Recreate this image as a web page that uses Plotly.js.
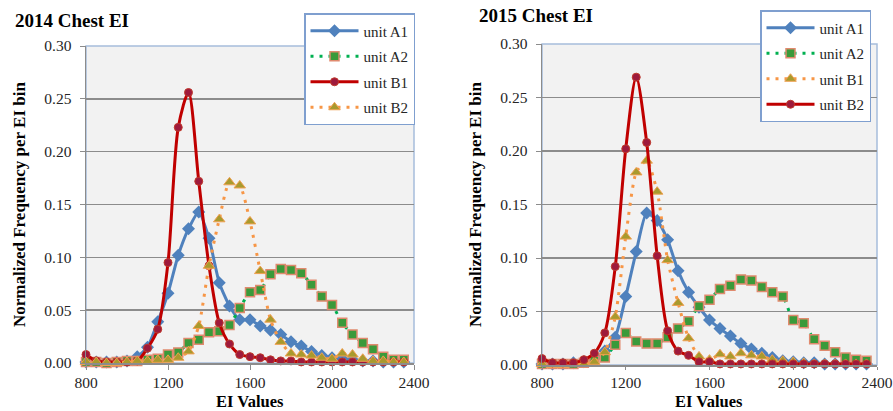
<!DOCTYPE html>
<html>
<head>
<meta charset="utf-8">
<script src="https://cdn.plot.ly/plotly-3.0.1.min.js"></script>
<style>html,body{margin:0;padding:0;background:#fff}#chart{width:893px;height:411px}</style>
</head>
<body>
<div id="chart"></div>
<script>
// EI bins
var eiBins = [800,850,900,950,1000,1050,1100,1150,1200,1250,1300,1350,1400,1450,1500,1550,
              1600,1650,1700,1750,1800,1850,1900,1950,2000,2050,2100,2150,2200,2250,2300,2350];

// 2014 Chest EI
var y2014_A1 = [0.001,0.001,0.001,0.001,0.002,0.006,0.015,0.039,0.066,0.102,0.127,0.143,0.118,0.076,0.054,0.041,
                0.041,0.035,0.031,0.027,0.020,0.016,0.011,0.007,0.005,0.004,0.003,0.002,0.002,0.001,0.001,0.001];
var y2014_A2 = [0.001,0.001,0.000,0.001,0.002,0.002,0.003,0.004,0.008,0.010,0.019,0.022,0.029,0.030,0.036,0.052,
                0.067,0.069,0.084,0.089,0.088,0.085,0.074,0.063,0.055,0.038,0.027,0.019,0.013,0.006,0.003,0.003];
var y2014_B1 = [0.008,0.002,0.001,0.001,0.001,0.002,0.014,0.032,0.095,0.223,0.256,0.172,0.092,0.038,0.018,0.008,
                0.006,0.005,0.003,0.002,0.002,0.001,0.001,0.001,0.001,0.001,0.001,0.001,0.001,0.001,0.001,0.001];
var y2014_B2 = [0.001,0.001,0.000,0.000,0.001,0.002,0.002,0.003,0.003,0.005,0.011,0.035,0.092,0.136,0.171,0.168,
                0.134,0.087,0.041,0.020,0.009,0.008,0.007,0.005,0.004,0.009,0.008,0.004,0.002,0.002,0.001,0.001];

// 2015 Chest EI
var y2015_A1 = [0.001,0.001,0.001,0.002,0.003,0.006,0.013,0.026,0.064,0.106,0.142,0.135,0.117,0.088,0.068,0.054,
                0.042,0.034,0.027,0.020,0.015,0.011,0.007,0.004,0.003,0.002,0.002,0.001,0.001,0.001,0.001,0.001];
var y2015_A2 = [0.001,0.001,0.001,0.001,0.002,0.004,0.007,0.019,0.030,0.022,0.020,0.020,0.026,0.034,0.041,0.055,
                0.061,0.071,0.074,0.080,0.079,0.073,0.068,0.064,0.042,0.039,0.024,0.018,0.012,0.007,0.005,0.004];
var y2015_B1 = [0.001,0.000,0.000,0.001,0.001,0.003,0.012,0.045,0.120,0.180,0.191,0.162,0.098,0.058,0.025,0.008,
                0.005,0.010,0.008,0.011,0.009,0.008,0.005,0.004,0.003,0.002,0.001,0.001,0.001,0.001,0.001,0.001];
var y2015_B2 = [0.006,0.002,0.002,0.002,0.005,0.011,0.030,0.092,0.202,0.269,0.208,0.102,0.032,0.013,0.009,0.003,
                0.003,0.001,0.001,0.001,0.001,0.001,0.001,0.001,0.001,0.001,0.001,0.001,0.001,0.001,0.001,0.001];

var yTicks = [0,0.05,0.10,0.15,0.20,0.25,0.30];
var xTicks = [800,1200,1600,2000,2400];

var W = 893, H = 411;
var serif = "Liberation Serif";

var styleA1 = {mode:'lines+markers', line:{color:'#4f81bd', width:3, shape:'spline', smoothing:0.6},
  marker:{symbol:'diamond', size:10, color:'#4f81bd', line:{color:'#4f81bd', width:0}}};
var styleA2 = {mode:'lines+markers', line:{color:'#00b050', width:3, dash:'3px,6px', shape:'spline', smoothing:0.6},
  marker:{symbol:'square', size:9, color:'#3a9a3a', line:{color:'#e08a6e', width:1.5}}};
var styleRed = {mode:'lines+markers', line:{color:'#c00000', width:3, shape:'spline', smoothing:0.8},
  marker:{symbol:'circle', size:8, color:'#9e1a3c', line:{color:'#c0392b', width:1}}};
var styleOrange = {mode:'lines+markers', line:{color:'#f79646', width:3, dash:'3px,6px', shape:'spline', smoothing:0.6},
  marker:{symbol:'triangle-up', size:10, color:'#a89a2e', line:{color:'#f0a050', width:1}}};

function tr(style, y, name, xa, ya, lg, grp){
  var t = JSON.parse(JSON.stringify(style));
  t.type = 'scatter'; t.x = eiBins; t.y = y; t.name = name;
  t.xaxis = xa; t.yaxis = ya; t.legend = lg; t.cliponaxis = false;
  t.legendgroup = grp;
  return t;
}

var data = [
  tr(styleA1, y2014_A1, 'unit A1', 'x', 'y', 'legend', 'a1'),
  tr(styleA2, y2014_A2, 'unit A2', 'x', 'y', 'legend', 'a2'),
  tr(styleRed, y2014_B1, 'unit B1', 'x', 'y', 'legend', 'b1'),
  tr(styleOrange, y2014_B2, 'unit B2', 'x', 'y', 'legend', 'b2'),
  tr(styleA1, y2015_A1, 'unit A1', 'x2', 'y2', 'legend2', 'c1'),
  tr(styleA2, y2015_A2, 'unit A2', 'x2', 'y2', 'legend2', 'c2'),
  tr(styleOrange, y2015_B1, 'unit B1', 'x2', 'y2', 'legend2', 'd1'),
  tr(styleRed, y2015_B2, 'unit B2', 'x2', 'y2', 'legend2', 'd2')
];

// plot areas in px
var P1 = {l:86, r:414, t:46, b:363};
var P2 = {l:542, r:877, t:44, b:365};

function xax(p, anchor, tl){
  return {domain:[p.l/W, p.r/W], anchor:anchor, range:[800,2400], tickvals:xTicks,
    ticktext:xTicks.map(String), showgrid:false, zeroline:false, showline:true, linecolor:'#8c8c8c', linewidth:1.5,
    ticks:'outside', ticklen:tl, tickcolor:'#8c8c8c', ticklabelstandoff:0,
    tickfont:{family:serif, size:15.5, color:'#262626'}, fixedrange:true};
}
function yax(p, anchor){
  return {domain:[(H-p.b)/H, (H-p.t)/H], anchor:anchor, range:[0,0.30], tickvals:yTicks,
    tickformat:'.2f', showgrid:true, gridcolor:'#8c8c8c', gridwidth:1.5, zeroline:false,
    showline:true, linecolor:'#8c8c8c', linewidth:1.5, ticks:'outside', ticklen:5, tickcolor:'#8c8c8c',
    ticklabelstandoff:5, tickfont:{family:serif, size:15.5, color:'#262626'}, fixedrange:true};
}

function legendCfg(xpx, ypx){
  return {x:xpx/W, y:(H-ypx)/H, xanchor:'left', yanchor:'top', bgcolor:'#ffffff',
    bordercolor:'#7f9fcf', borderwidth:1.5, font:{family:serif, size:15, color:'#262626'},
    traceorder:'grouped', tracegroupgap:3, itemwidth:48};
}

var layout = {
  width:W, height:H, margin:{l:0, r:0, t:0, b:0, autoexpand:false},
  font:{family:serif, color:'#262626'},
  paper_bgcolor:'#ffffff', plot_bgcolor:'#f2f2f2', showlegend:true,
  xaxis: xax(P1,'y',5), yaxis: yax(P1,'x'),
  xaxis2: xax(P2,'y2',3), yaxis2: yax(P2,'x2'),
  legend: legendCfg(304, 13),
  legend2: legendCfg(760, 10),
  shapes:[
    {type:'rect', xref:'paper', yref:'paper', x0:P1.l/W, x1:P1.r/W, y0:(H-P1.b)/H, y1:(H-P1.t)/H,
     line:{color:'#a6bddb', width:1.5}, layer:'below'},
    {type:'rect', xref:'paper', yref:'paper', x0:P2.l/W, x1:P2.r/W, y0:(H-P2.b)/H, y1:(H-P2.t)/H,
     line:{color:'#a6bddb', width:1.5}, layer:'below'}
  ],
  annotations:[
    {text:'<b>2014 Chest EI</b>', xref:'paper', yref:'paper', x:13/W, y:(H-20)/H, xanchor:'left', yanchor:'middle',
     showarrow:false, font:{family:serif, size:19, color:'#000'}},
    {text:'<b>2015 Chest EI</b>', xref:'paper', yref:'paper', x:477/W, y:(H-16)/H, xanchor:'left', yanchor:'middle',
     showarrow:false, font:{family:serif, size:19, color:'#000'}},
    {text:'<b>Normalized Frequency per EI bin</b>', xref:'paper', yref:'paper', x:20/W, y:(H-205)/H,
     xanchor:'center', yanchor:'middle', textangle:-90, showarrow:false, font:{family:serif, size:17, color:'#000'}},
    {text:'<b>Normalized Frequency per EI bin</b>', xref:'paper', yref:'paper', x:476/W, y:(H-205)/H,
     xanchor:'center', yanchor:'middle', textangle:-90, showarrow:false, font:{family:serif, size:17, color:'#000'}},
    {text:'<b>EI Values</b>', xref:'paper', yref:'paper', x:250/W, y:(H-401)/H, xanchor:'center', yanchor:'middle',
     borderpad:0, showarrow:false, font:{family:serif, size:16.5, color:'#000'}},
    {text:'<b>EI Values</b>', xref:'paper', yref:'paper', x:709/W, y:(H-401)/H, xanchor:'center', yanchor:'middle',
     borderpad:0, showarrow:false, font:{family:serif, size:16.5, color:'#000'}}
  ]
};

Plotly.newPlot('chart', data, layout, {displayModeBar:false, staticPlot:true});
</script>
</body>
</html>
